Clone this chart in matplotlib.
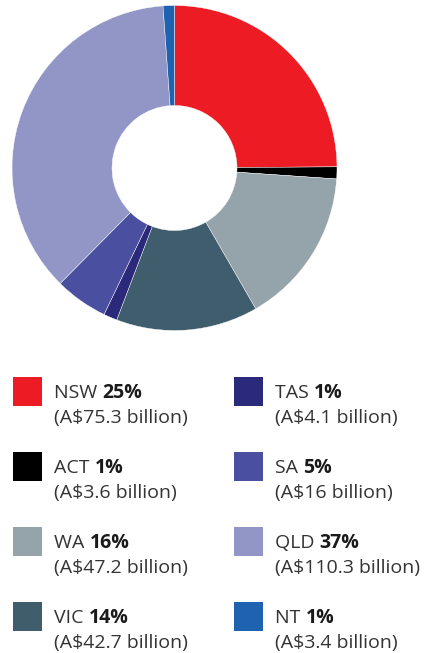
import matplotlib.pyplot as plt
from matplotlib.patches import Rectangle

# Data
states = ["NSW", "ACT", "WA", "VIC", "TAS", "SA", "QLD", "NT"]
values = [75.3, 3.6, 47.2, 42.7, 4.1, 16, 110.3, 3.4]
pct_labels = ["25%", "1%", "16%", "14%", "1%", "5%", "37%", "1%"]
amount_labels = ["(A$75.3 billion)", "(A$3.6 billion)", "(A$47.2 billion)",
                 "(A$42.7 billion)", "(A$4.1 billion)", "(A$16 billion)",
                 "(A$110.3 billion)", "(A$3.4 billion)"]
colors = ["#ed1c24", "#000000", "#95a4aa", "#3f5d6d",
          "#2b2a7a", "#4a4f9f", "#9296c7", "#1f63b0"]

# legend order: left column then right column
legend_left = ["NSW", "ACT", "WA", "VIC"]
legend_right = ["TAS", "SA", "QLD", "NT"]

plt.rcParams["font.family"] = ["Open Sans", "DejaVu Sans"]
W, H = 427, 653
fig = plt.figure(figsize=(W / 100, H / 100), dpi=100)

# Donut
cx, cy, r = 174.5, 168, 162.5
ax = fig.add_axes([(cx - r) / W, 1 - (cy + r) / H, 2 * r / W, 2 * r / H])
ax.pie(values, colors=colors, startangle=90, counterclock=False,
       wedgeprops=dict(width=100 / 162.5, edgecolor="white", linewidth=0.3))
ax.set_xlim(-1, 1)
ax.set_ylim(-1, 1)
ax.set_aspect("equal")
ax.axis("off")

# Legend
lax = fig.add_axes([0, 0, 1, 1])
lax.set_xlim(0, W)
lax.set_ylim(H, 0)
lax.axis("off")

txt_color = "#333333"
fs = 14
renderer = fig.canvas.get_renderer()

def legend_item(x, y, name):
    i = states.index(name)
    lax.add_patch(Rectangle((x, y), 29, 29, color=colors[i], lw=0))
    t = lax.text(x + 41, y + 21, name + " ", fontsize=fs, color=txt_color,
                 va="baseline", ha="left")
    bb = t.get_window_extent(renderer)
    lax.text(x + 41 + bb.width, y + 21, pct_labels[i], fontsize=fs,
             color="#1a1a1a", fontweight="bold", va="baseline", ha="left")
    lax.text(x + 41, y + 46, amount_labels[i], fontsize=fs, color=txt_color,
             va="baseline", ha="left")

for k, name in enumerate(legend_left):
    legend_item(13, 377 + k * 75, name)
for k, name in enumerate(legend_right):
    legend_item(234, 377 + k * 75, name)

fig.savefig("out.png", dpi=100)
